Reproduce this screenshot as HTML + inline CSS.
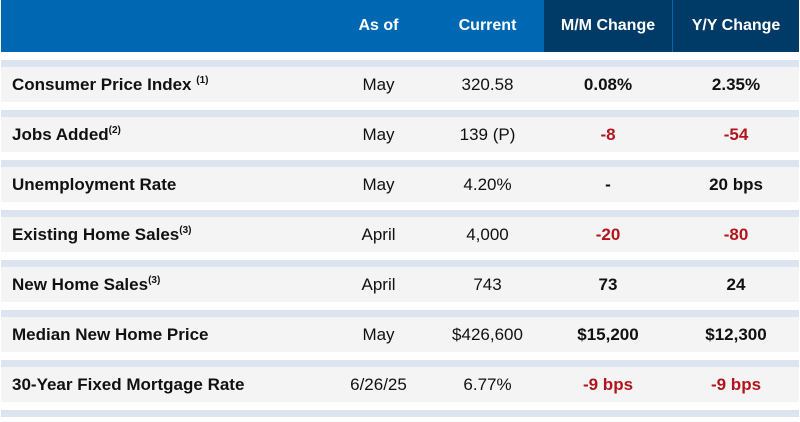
<!DOCTYPE html>
<html><head><meta charset="utf-8"><style>
body{margin:0;width:800px;height:422px;background:#fff;font-family:"Liberation Sans",Arial,sans-serif;position:relative;overflow:hidden}
.hdr{position:absolute;left:1px;top:0;width:798px;height:52px;background:#0068b3}
.hdr .dk{position:absolute;top:0;height:52px;background:#003a66}
.h{position:absolute;top:0;height:52px;line-height:52px;color:#fff;font-weight:bold;font-size:16px;text-align:center}
.stripe{position:absolute;left:1px;width:798px;height:7px;background:#dce5ef}
.row{position:absolute;left:1px;width:798px;height:35px;background:#f4f4f4}
.c{position:absolute;top:0;height:35px;line-height:35px;font-size:17px;color:#111;text-align:center}
.lab{left:11px;text-align:left;font-weight:bold}
.b{font-weight:bold}.r{color:#b3151c;font-weight:bold}
sup{font-size:10px;vertical-align:7px;line-height:0}
</style></head><body>
<div class="hdr">
 <div class="dk" style="left:543px;width:128px"></div>
 <div class="dk" style="left:672px;width:126px"></div>
 <div class="h" style="left:320px;width:115px">As of</div>
 <div class="h" style="left:430px;width:113px">Current</div>
 <div class="h" style="left:543px;width:128px">M/M Change</div>
 <div class="h" style="left:672px;width:126px">Y/Y Change</div>
</div>
<div id="body"></div>
<script>
const labels=['Consumer Price Index <sup>(1)</sup>','Jobs Added<sup>(2)</sup>','Unemployment Rate','Existing Home Sales<sup>(3)</sup>','New Home Sales<sup>(3)</sup>','Median New Home Price','30-Year Fixed Mortgage Rate'];
const asOf=['May','May','May','April','April','May','6/26/25'];
const current=['320.58','139 (P)','4.20%','4,000','743','$426,600','6.77%'];
const mm=['0.08%','-8','-','-20','73','$15,200','-9 bps'];
const yy=['2.35%','-54','20 bps','-80','24','$12,300','-9 bps'];
const body=document.getElementById('body');
function cell(row,cls,left,width,html,name){
 const d=document.createElement('div');
 d.className='c '+cls;
 if(left!==null){d.style.left=left+'px';d.style.width=width+'px';}
 d.innerHTML=html;
 
 
 row.appendChild(d);
}
for(let i=0;i<labels.length;i++){
 const top=60+i*50;
 const s=document.createElement('div');s.className='stripe';s.style.top=top+'px';
 
 
 body.appendChild(s);
 const r=document.createElement('div');r.className='row';r.style.top=(top+7)+'px';
 
 
 body.appendChild(r);
 cell(r,'lab',null,0,labels[i],'row-label');
 cell(r,'',320,115,asOf[i],'as-of-cell');
 cell(r,'',430,113,current[i],'current-cell');
 cell(r,mm[i].startsWith('-')&&mm[i].length>1?'r':'b',543,128,mm[i],'mm-change-cell');
 cell(r,yy[i].startsWith('-')?'r':'b',672,126,yy[i],'yy-change-cell');
}
const s=document.createElement('div');s.className='stripe';s.style.top='410px';


body.appendChild(s);
</script>
</body></html>
